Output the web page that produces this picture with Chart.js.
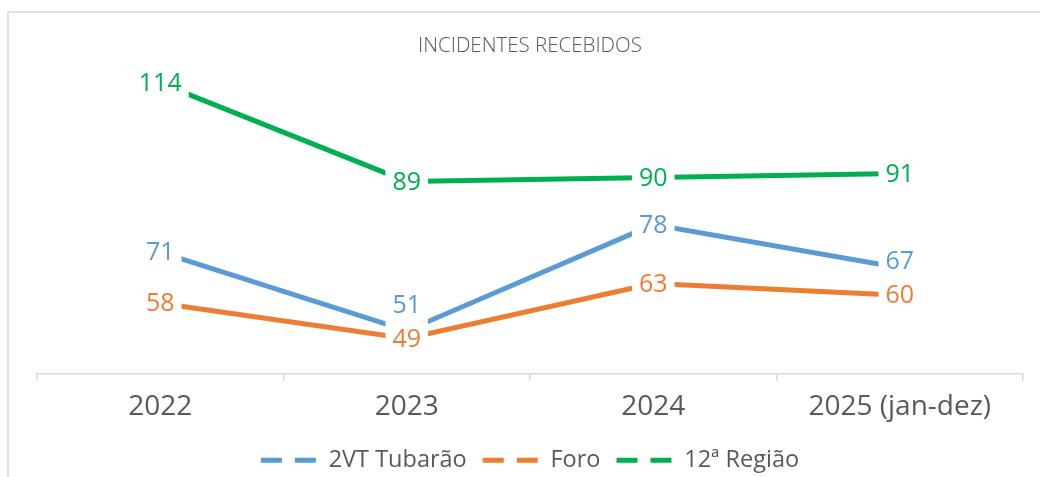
<!DOCTYPE html>
<html>
<head>
<meta charset="utf-8">
<script src="https://cdn.jsdelivr.net/npm/chart.js@4.4.1/dist/chart.umd.min.js"></script>
<style>
  body { margin: 0; background: #ffffff; overflow: hidden; }
  #wrap { position: relative; width: 1040px; height: 477px; }
  #frame {
    position: absolute; left: 7px; top: 11px; width: 1100px; height: 600px;
    border-left: 2px solid #e0e0e0; border-top: 2px solid #e0e0e0;
    pointer-events: none;
  }
</style>
</head>
<body>
<div id="wrap">
  <canvas id="incidentesChart" width="1040" height="477"></canvas>
  <div id="frame"></div>
</div>
<script>
// categories and series
const years = ['2022', '2023', '2024', '2025 (jan-dez)'];
const vtTubarao = [71, 51, 78, 67];
const foro = [58, 49, 63, 60];
const regiao12 = [114, 89, 90, 91];

const seriesNames = ['2VT Tubarão', 'Foro', '12ª Região'];
const seriesColors = ['#5B9BD5', '#ED7D31', '#00B050'];

// value labels with a white box, like the excel data labels
const valueLabels = {
    id: 'valueLabels',
    afterDatasetsDraw(chart) {
        const ctx = chart.ctx;
        ctx.save();
        ctx.font = '25px "Open Sans"';
        ctx.textAlign = 'center';
        ctx.textBaseline = 'middle';
        const placed = [];
        // last series keeps its place, earlier ones move up when they collide
        for (let d = chart.data.datasets.length - 1; d >= 0; d--) {
            const ds = chart.data.datasets[d];
            const meta = chart.getDatasetMeta(d);
            meta.data.forEach((pt, i) => {
                const text = String(ds.data[i]);
                const w = ctx.measureText(text).width + 14;
                const h = 34;
                let x = pt.x, y = pt.y;
                placed.forEach(b => {
                    if (Math.abs(b.x - x) < (b.w + w) / 2 && Math.abs(b.y - y) < h) {
                        y = b.y - h;
                    }
                });
                ctx.fillStyle = '#ffffff';
                ctx.fillRect(x - w / 2, y - h / 2, w, h);
                ctx.fillStyle = ds.borderColor;
                ctx.fillText(text, x, y + 1);
                placed.push({ x, y, w });
            });
        }
        ctx.restore();
    }
};

const chartData = {
    labels: years,
    datasets: [vtTubarao, foro, regiao12].map((values, i) => ({
        label: seriesNames[i],
        data: values,
        borderColor: seriesColors[i],
        backgroundColor: seriesColors[i],
        borderWidth: 5,
        pointRadius: 0,
        tension: 0,
    })),
};

const chartOptions = {
    responsive: false,
    animation: false,
    layout: {
        padding: { left: 37, right: 17, top: 0, bottom: -5 },
    },
    scales: {
        x: {
            offset: true,
            grid: {
                offset: true,
                drawOnChartArea: false,
                tickLength: 7,
                color: '#d9d9d9',
                lineWidth: 1.5,
            },
            border: { color: '#d9d9d9', width: 1.5 },
            ticks: {
                color: '#595959',
                padding: 9,
                font: { family: '"Open Sans"', size: 28 },
            },
        },
        y: {
            display: false,
            min: 40,
            max: 120,
        },
    },
    plugins: {
        title: {
            display: true,
            text: 'INCIDENTES RECEBIDOS',
            color: '#595959',
            font: { family: '"Open Sans"', size: 20.5, weight: 300 },
            padding: { top: 34, bottom: 1 },
        },
        legend: {
            display: true,
            position: 'bottom',
            labels: {
                color: '#595959',
                font: { family: '"Open Sans"', size: 23.5 },
                usePointStyle: true,
                pointStyleWidth: 56,
                padding: 16,
                generateLabels(chart) {
                    const items = Chart.defaults.plugins.legend.labels.generateLabels(chart);
                    items.forEach(item => {
                        item.pointStyle = 'line';
                        item.lineDash = [21, 13];
                        item.lineWidth = 5;
                        item.lineCap = 'butt';
                    });
                    return items;
                },
            },
        },
        tooltip: { enabled: false },
    },
};

const ctx = document.getElementById('incidentesChart');
new Chart(ctx, {
    type: 'line',
    data: chartData,
    options: chartOptions,
    plugins: [valueLabels],
});
</script>
</body>
</html>
